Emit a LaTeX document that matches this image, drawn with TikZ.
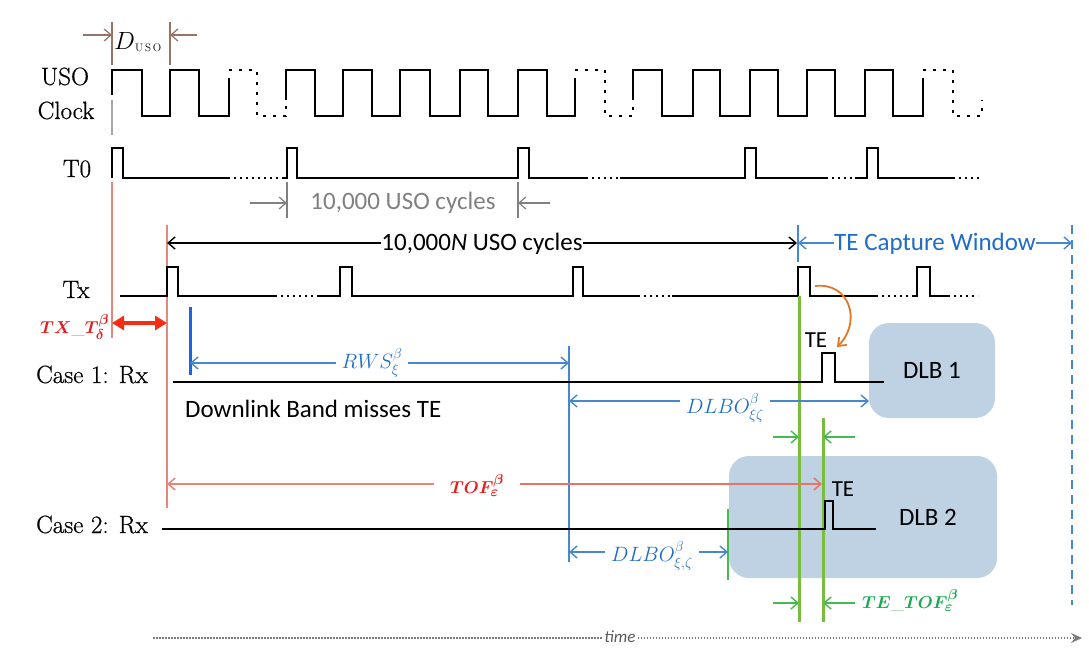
\documentclass[tikz,border=0pt]{standalone}
\usepackage{amsmath}
\usepackage{fontspec}
\newfontfamily\calib{Carlito}
\newfontfamily\rowfont{Latin Modern Roman}[FakeBold=0.7]
\usetikzlibrary{arrows.meta}
\definecolor{brn}{RGB}{150,115,100}
\definecolor{gry}{RGB}{128,128,128}
\definecolor{redl}{RGB}{228,135,125}
\definecolor{redt}{RGB}{232,28,28}
\definecolor{redarr}{RGB}{245,45,20}
\definecolor{blu}{RGB}{70,135,210}
\definecolor{blut}{RGB}{30,110,200}
\definecolor{bluthick}{RGB}{30,100,225}
\definecolor{grn}{RGB}{120,190,60}
\definecolor{grna}{RGB}{70,185,80}
\definecolor{grnt}{RGB}{25,170,80}
\definecolor{org}{RGB}{225,120,40}
\definecolor{boxc}{RGB}{190,210,228}
\definecolor{timec}{RGB}{90,90,90}
\begin{document}
\begin{tikzpicture}[x=1pt,y=-1pt,
  wave/.style={line width=2.3pt, line join=miter},
  dotsg/.style={line width=2pt, dash pattern=on 2pt off 4pt},
  clkdash/.style={line width=2.3pt, dash pattern=on 3pt off 7pt},
  barb/.style={-{Straight Barb[length=7pt,width=12pt]}},
  serif/.style={font=\rowfont\fontsize{25}{30}\selectfont, anchor=base, inner sep=0pt},
  cal/.style={font=\calib\fontsize{25}{30}\selectfont, anchor=base, inner sep=0pt},
  mlab/.style={font=\fontsize{20}{24}\selectfont, anchor=base, inner ysep=1pt, inner xsep=6pt},
  blab/.style={font=\fontsize{19}{23}\selectfont\boldmath, anchor=base, inner ysep=1pt, inner xsep=6pt},
  dlb/.style={fill=boxc, rounded corners=20pt, draw=none, inner sep=0pt}]
\useasboundingbox (0,0) rectangle (1089,652);
\fill[white] (0,0) rectangle (1089,652);

% ---- DLB boxes
\node[dlb, minimum width=126pt, minimum height=95pt, font=\calib\fontsize{25}{30}\selectfont] (dlb1) at (932,370.5) {DLB 1};
\node[dlb, minimum width=268pt, minimum height=122pt] (dlb2) at (863,517) {};
\node[cal] (dlb2t) at (928,525) {DLB 2};

% ---- row labels
\node[serif] (luso) at (65,85) {USO};
\node[serif] (lclk) at (66,119) {Clock};
\node[serif] (lt0) at (77,177) {T0};
\node[serif] (ltx) at (76,298) {Tx};
\node[serif] (lc1) at (92,383) {Case 1: Rx};
\node[serif] (lc2) at (92,533) {Case 2: Rx};

% ---- D_USO
\coordinate (du1) at (112,22); \coordinate (du1b) at (112,65);
\coordinate (du2) at (170,22); \coordinate (du2b) at (170,65);
\draw[brn, line width=1.3pt] (du1) -- (du1b);
\draw[brn, line width=1.3pt] (du2) -- (du2b);
\coordinate (dua) at (83,35); \coordinate (dub) at (112,35);
\coordinate (duc) at (197,35); \coordinate (dud) at (170,35);
\draw[brn, line width=1.2pt, barb] (dua) -- (dub);
\draw[brn, line width=1.2pt, barb] (duc) -- (dud);
\node[anchor=base west, inner sep=0pt, font=\fontsize{25}{28}\selectfont] (dlab) at (114,50) {$D$};
\node[anchor=base west, inner sep=0pt, font=\fontsize{11}{13}\selectfont] (dsub) at (135,52) {U\,S\,O};
\draw[gry!70, line width=1.3pt] (112,100) -- (112,135);

% ---- red / blue / green vertical markers
\draw[redl, line width=2.5pt] (112,182) -- (112,338);
\draw[redl, line width=2.5pt] (167,225) -- (167,508);
\draw[blu, line width=1.5pt] (798,225) -- (798,262);
\draw[blu, line width=2pt, dash pattern=on 9pt off 6pt] (1072,225) -- (1072,605);
\draw[bluthick, line width=3pt] (190,307) -- (190,375);
\draw[blu, line width=1.5pt] (569,346) -- (569,562);
\draw[gry, line width=1.2pt] (287,182) -- (287,218);
\draw[gry, line width=1.2pt] (518,182) -- (518,218);
\draw[grna, line width=1.5pt] (728,509) -- (728,580);

% ---- USO clock
\draw[wave] (112,95) -- (112,70) -- (142,70) -- (142,116) -- (170,116) -- (170,70) -- (199,70) -- (199,116) -- (229,116) -- (229,78);
\draw[clkdash] (229,70) -- (257,70) -- (257,116) -- (286,116) -- (286,100);
\draw[wave] (286,100) -- (286,70) -- (315,70) -- (315,116) -- (343,116) -- (343,70) -- (372,70) -- (372,116) -- (400,116) -- (400,70) -- (430,70) -- (430,116) -- (460,116) -- (460,70) -- (488,70) -- (488,116) -- (518,116) -- (518,70) -- (547,70) -- (547,116) -- (575,116) -- (575,78);
\draw[clkdash] (575,70) -- (605,70) -- (605,116) -- (633,116) -- (633,100);
\draw[wave] (633,100) -- (633,70) -- (662,70) -- (662,116) -- (693,116) -- (693,70) -- (720,70) -- (720,116) -- (750,116) -- (750,70) -- (778,70) -- (778,116) -- (807,116) -- (807,70) -- (835,70) -- (835,116) -- (865,116) -- (865,70) -- (893,70) -- (893,116) -- (923,116) -- (923,78);
\draw[clkdash] (923,70) -- (953,70) -- (953,116) -- (982,116) -- (982,100);

% ---- T0
\draw[wave] (112,178) -- (112,148) -- (123,148) -- (123,178) -- (230,178);
\draw[dotsg] (234,178) -- (282,178);
\draw[wave] (282,178) -- (287,178) -- (287,148) -- (297,148) -- (297,178) -- (518,178) -- (518,148) -- (529,148) -- (529,178) -- (588,178);
\draw[dotsg] (592,178) -- (620,178);
\draw[wave] (620,178) -- (745,178) -- (745,148) -- (756,148) -- (756,178) -- (828,178);
\draw[dotsg] (832,178) -- (855,178);
\draw[wave] (855,178) -- (867,178) -- (867,148) -- (878,148) -- (878,178) -- (955,178);
\draw[dotsg] (959,178) -- (980,178);

% ---- 10,000 USO cycles
\node[cal, text=gry] (n10) at (403,210) {10,000 USO cycles};
\coordinate (ga) at (250,203); \coordinate (gb) at (287,203);
\coordinate (gc) at (550,203); \coordinate (gd) at (518,203);
\draw[gry, line width=1.2pt, barb] (ga) -- (gb);
\draw[gry, line width=1.2pt, barb] (gc) -- (gd);

% ---- 10,000N USO cycles
\node[cal, inner xsep=0pt] (n10k) at (482,251) {10,000\textit{N} USO cycles};
\coordinate (ka) at (167,243); \coordinate (kb) at (797,243);
\draw[line width=1.4pt, barb] (n10k.west |- ka) -- (ka);
\draw[line width=1.4pt, barb] (n10k.east |- kb) -- (kb);

% ---- TE capture window
\node[cal, text=blut] (tecw) at (935,251) {TE Capture Window};
\coordinate (ca) at (798,243); \coordinate (cb) at (1072,243);
\draw[blu, line width=1.4pt, barb] (tecw.west |- ca) -- (ca);
\draw[blu, line width=1.4pt, barb] (tecw.east |- cb) -- (cb);

% ---- Tx
\draw[wave] (120,296) -- (167,296) -- (167,267) -- (178,267) -- (178,296) -- (277,296);
\draw[dotsg] (281,296) -- (317,296);
\draw[wave] (317,296) -- (340,296) -- (340,267) -- (352,267) -- (352,296) -- (573,296) -- (573,267) -- (583,267) -- (583,296) -- (640,296);
\draw[dotsg] (644,296) -- (672,296);
\draw[wave] (672,296) -- (798,296) -- (798,267) -- (810,267) -- (810,296) -- (878,296);
\draw[dotsg] (882,296) -- (913,296);
\draw[wave] (913,296) -- (917,296) -- (917,267) -- (930,267) -- (930,296) -- (950,296);
\draw[dotsg] (954,296) -- (978,296);

% ---- green thick lines
\draw[grn, line width=3pt] (799,296) -- (799,622);
\draw[grn, line width=3pt] (823,418) -- (823,622);

% ---- TX_T
\node[blab, anchor=base west, inner xsep=0pt, text=redt] (txt) at (40,333) {$TX\_T^{\beta}_{\delta}$};
\coordinate (ta) at (112,323); \coordinate (tb) at (167,323);
\draw[redarr, line width=3.5pt, {Triangle[length=12pt,width=14pt]}-{Triangle[length=12pt,width=14pt]}] (ta) -- (tb);

% ---- Case 1
\draw[wave] (173,382) -- (822,382) -- (822,353) -- (835,353) -- (835,382) -- (884,382);
\node[cal, font=\calib\fontsize{23}{27}\selectfont] (te1) at (816,347) {TE};
\coordinate (oa) at (815,286); \coordinate (ob) at (837,347);
\draw[org, line width=1.8pt, -{Straight Barb[length=7pt,width=11pt]}] (oa) .. controls (850,282) and (862,322) .. (ob);
\node[cal, anchor=base west] (dbm) at (185,417) {Downlink Band misses TE};

% RWS
\node[mlab, text=blut] (rws) at (372,368) {$RWS^{\beta}_{\xi}$};
\coordinate (ra) at (190,363); \coordinate (rb) at (569,363);
\draw[blu, line width=1.4pt, barb] (rws.west |- ra) -- (ra);
\draw[blu, line width=1.4pt, barb] (rws.east |- rb) -- (rb);

% DLBO 1
\node[mlab, text=blut] (dl1) at (725,413) {$DLBO^{\beta}_{\xi\zeta}$};
\coordinate (la) at (569,401); \coordinate (lb) at (869,401);
\draw[blu, line width=1.4pt, barb] (dl1.west |- la) -- (la);
\draw[blu, line width=1.4pt, barb] (dl1.east |- lb) -- (lb);

% green arrows
\coordinate (g1) at (773,437); \coordinate (g1e) at (799,437);
\coordinate (g2) at (855,437); \coordinate (g2e) at (823,437);
\coordinate (g3) at (773,603); \coordinate (g3e) at (799,603);
\coordinate (g4) at (855,603); \coordinate (g4e) at (823,603);
\draw[grna, line width=1.4pt, barb] (g1) -- (g1e);
\draw[grna, line width=1.4pt, barb] (g2) -- (g2e);
\draw[grna, line width=1.4pt, barb] (g3) -- (g3e);
\draw[grna, line width=1.4pt, barb] (g4) -- (g4e);
\node[blab, anchor=base west, inner xsep=0pt, text=grnt] (tetof) at (862,608) {$TE\_TOF^{\beta}_{\varepsilon}$};

% TOF
\node[blab, inner xsep=16pt, text=redt] (tof) at (477,493) {$TOF^{\beta}_{\varepsilon}$};
\coordinate (fa) at (167,484); \coordinate (fb) at (822,484);
\draw[redl, line width=1.5pt, barb] (tof.west |- fa) -- (fa);
\draw[redl!85!red, line width=1.5pt, barb] (tof.east |- fb) -- (fb);

% ---- Case 2
\draw[wave] (162,529) -- (825,529) -- (825,501) -- (833,501) -- (833,529) -- (876,529);
\node[cal, font=\calib\fontsize{23}{27}\selectfont] (te2) at (843,496) {TE};

% DLBO 2
\node[mlab, text=blut] (dl2) at (652,561) {$DLBO^{\beta}_{\xi,\zeta}$};
\coordinate (ma) at (569,552); \coordinate (mb) at (728,552);
\draw[blu, line width=1.4pt, barb] (dl2.west |- ma) -- (ma);
\draw[blu, line width=1.4pt, barb] (dl2.east |- mb) -- (mb);

% ---- time axis
\node[anchor=center, inner xsep=2pt, inner ysep=0pt, text=timec, font=\calib\itshape\fontsize{17}{20}\selectfont] (time) at (620,637) {time};
\coordinate (tma) at (153,638); \coordinate (tmb) at (1082,638);
\draw[timec!80, line width=1.8pt, dash pattern=on 1.5pt off 1.5pt] (tma) -- (time.west |- tma);
\draw[timec!80, line width=1.8pt, dash pattern=on 1.5pt off 1.5pt, -{Stealth[length=11pt,width=10pt,inset=4pt]}] (time.east |- tmb) -- (tmb);
\end{tikzpicture}
\end{document}
